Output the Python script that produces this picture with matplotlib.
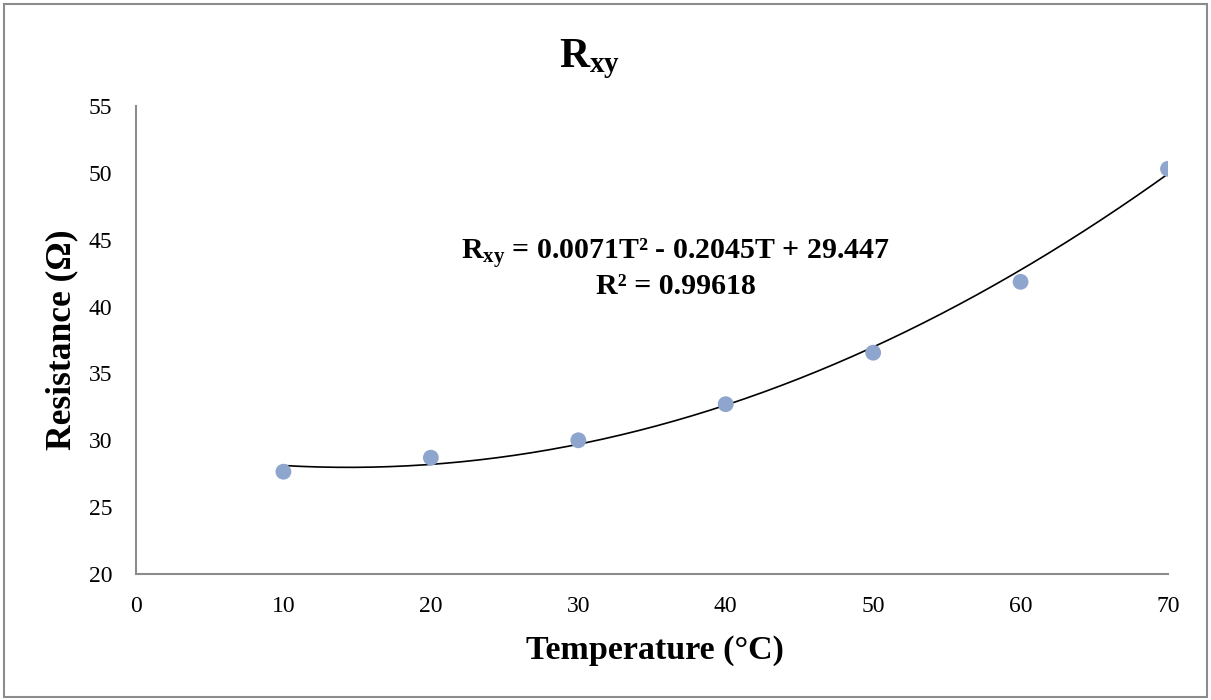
import numpy as np
import matplotlib
matplotlib.use("Agg")
import matplotlib.pyplot as plt
from matplotlib.patches import Rectangle

# Measured R_xy values
temperature = [10, 20, 30, 40, 50, 60, 70]
resistance = [27.65, 28.7, 30.0, 32.7, 36.55, 41.85, 50.3]

# trendline coefficients as reported in the chart label
coef = [0.0071, -0.2045, 29.447]
r_squared = 0.99618

plt.rcParams["font.family"] = ["Liberation Serif", "DejaVu Serif"]
plt.rcParams["mathtext.fontset"] = "custom"
plt.rcParams["mathtext.rm"] = "Liberation Serif"
plt.rcParams["mathtext.bf"] = "Liberation Serif:bold"
plt.rcParams["mathtext.it"] = "Liberation Serif:italic"

fig = plt.figure(figsize=(12.11, 7.0), dpi=100)
ax = fig.add_axes([0.1123, 0.18, 0.8522, 0.6686])

# outer chart border
fig.patches.append(Rectangle((0.003, 0.004), 0.994, 0.991, transform=fig.transFigure,
                             fill=False, edgecolor="#8c8c8c", lw=1.5))

ax.scatter(temperature, resistance, s=130, color="#8EA5CD", zorder=3, edgecolors="none")

t = np.linspace(min(temperature), max(temperature), 200)
ax.plot(t, np.polyval(coef, t), color="black", lw=1.2, zorder=2)

ax.set_xlim(0, 70)
ax.set_ylim(20, 55)
ax.set_xticks(range(0, 71, 10))
ax.set_yticks(range(20, 56, 5))
ax.tick_params(length=0, labelsize=17)
ax.tick_params(axis="x", pad=16)
ax.tick_params(axis="y", pad=17)
for side in ["top", "right"]:
    ax.spines[side].set_visible(False)
for side in ["left", "bottom"]:
    ax.spines[side].set_color("#8c8c8c")
    ax.spines[side].set_linewidth(1.5)

# axis titles placed where the reference has them
fig.text(655 / 1211, 1 - 650 / 700, "Temperature (°C)", fontsize=24.5, fontweight="bold",
         ha="center", va="center")
fig.text(62 / 1211, 1 - 340 / 700, "Resistance (Ω)", fontsize=25.5, fontweight="bold",
         ha="center", va="center", rotation=90)
fig.text(0.487, 0.915, r"$\mathbf{R_{xy}}$", fontsize=30, ha="center", va="center")

eq = (r"$\mathbf{R_{xy}}$ = %.4fT² - %.4fT + %.3f" % (coef[0], -coef[1], coef[2])
      + "\nR² = %.5f" % r_squared)
ax.text(36.6, 42.9, eq, fontsize=21.5, fontweight="bold", ha="center", va="center",
        linespacing=1.15)

fig.savefig("out.png", dpi=100)
